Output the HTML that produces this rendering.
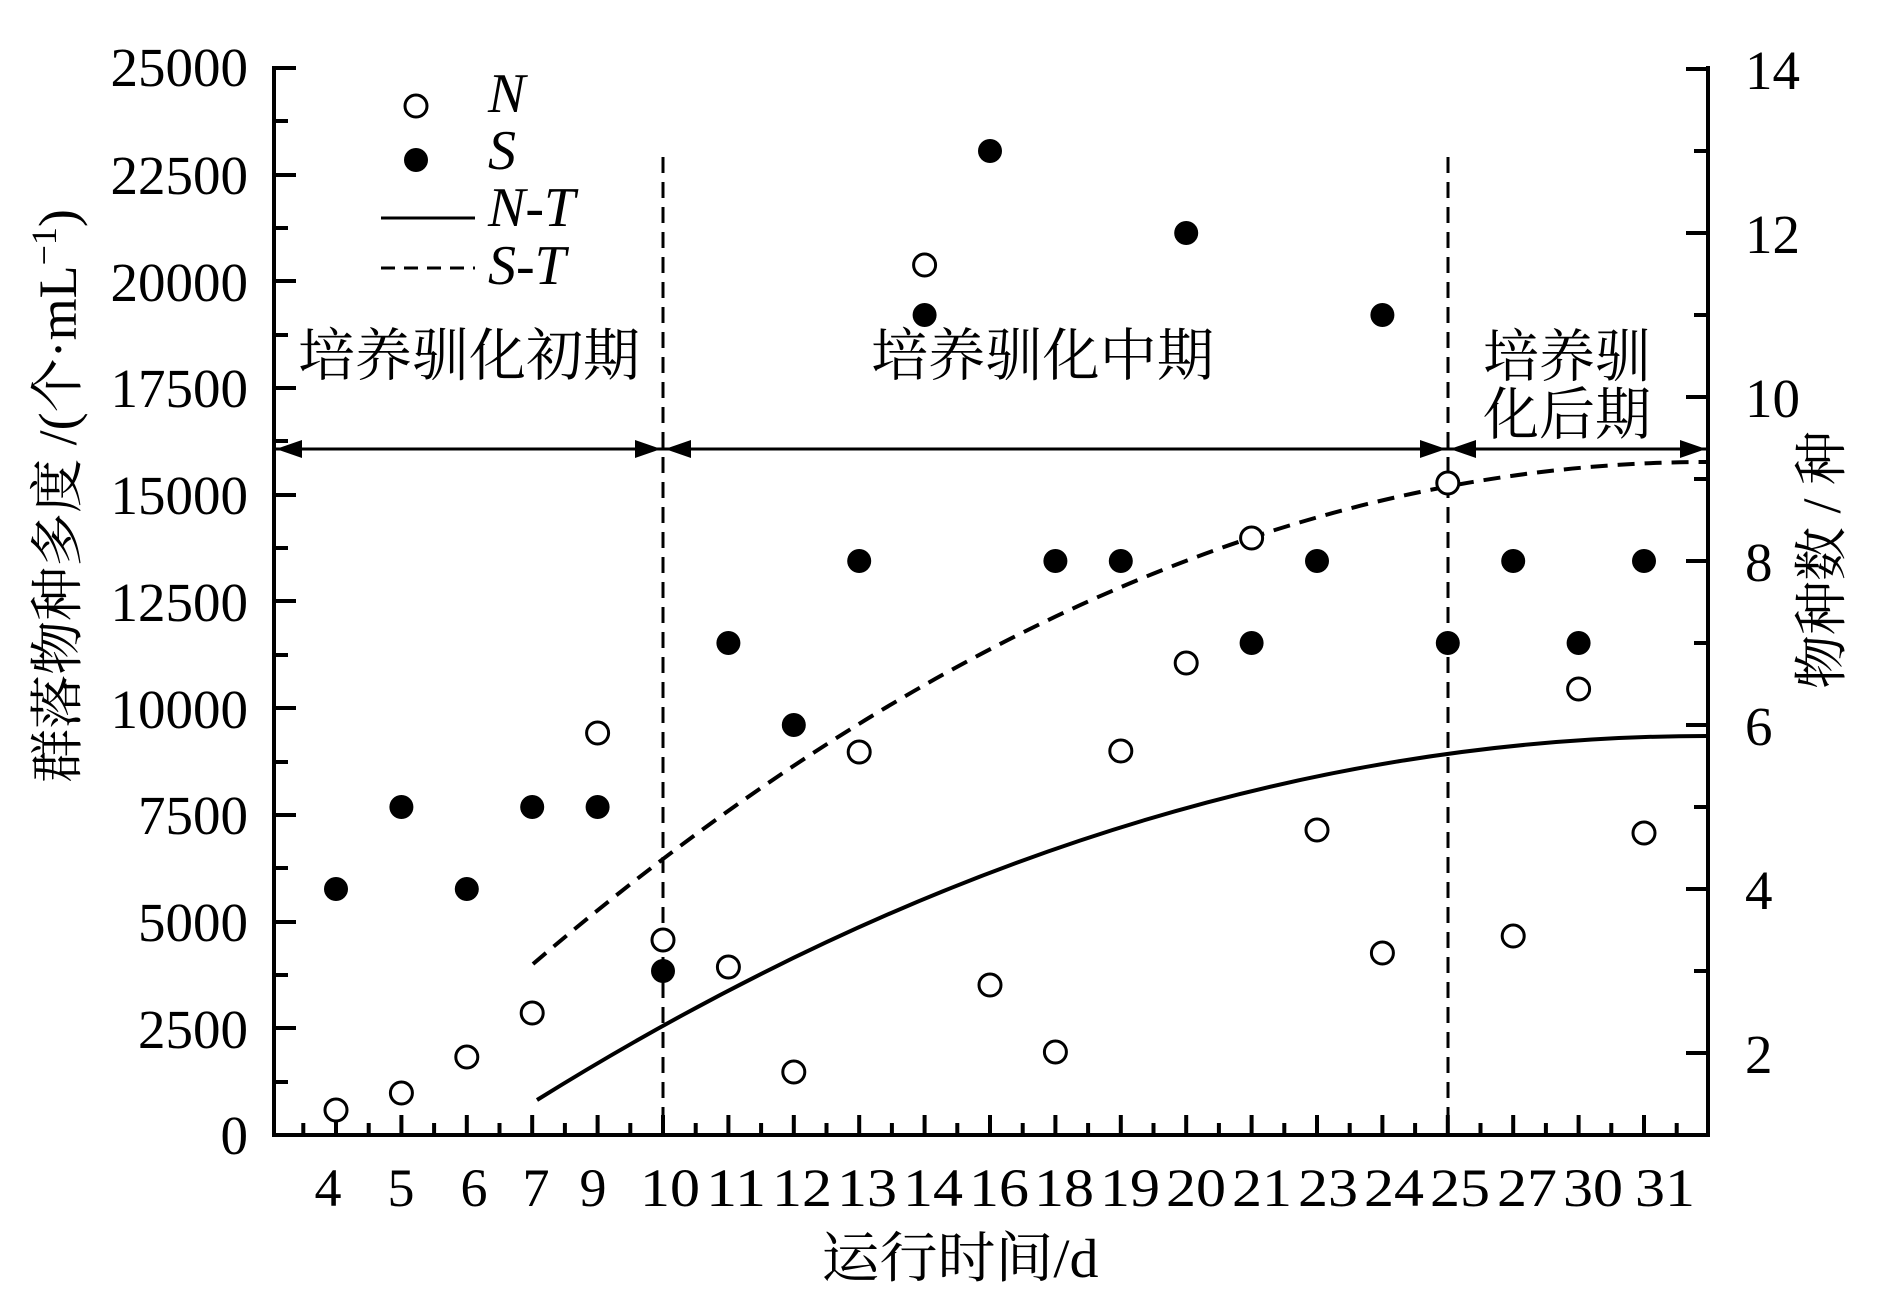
<!DOCTYPE html>
<html><head><meta charset="utf-8"><style>
html,body{margin:0;padding:0;background:#fff;}
svg{display:block;}
text{font-family:"Liberation Serif","Noto Serif CJK SC","Noto Sans CJK SC",serif;fill:#000;}
</style></head><body>
<svg width="1890" height="1299" viewBox="0 0 1890 1299" xmlns="http://www.w3.org/2000/svg">
<rect width="1890" height="1299" fill="#fff"/>
<g stroke="#000" stroke-width="4" fill="none">
<path d="M274 66 V1135 H1708 V66"/>
<path d="M274 68h22M274 175h22M274 281h22M274 388h22M274 495h22M274 601h22M274 708h22M274 815h22M274 922h22M274 1028h22"/>
<path d="M274 121h14M274 228h14M274 335h14M274 441h14M274 548h14M274 655h14M274 762h14M274 868h14M274 975h14M274 1082h14"/>
<path d="M1708 69h-22M1708 233h-22M1708 397h-22M1708 561h-22M1708 725h-22M1708 889h-22M1708 1053h-22"/>
<path d="M1708 151h-14M1708 315h-14M1708 479h-14M1708 643h-14M1708 807h-14M1708 971h-14"/>
<path d="M336 1135v-20M401.4 1135v-20M466.8 1135v-20M532.2 1135v-20M597.6 1135v-20M663 1135v-20M728.4 1135v-20M793.8 1135v-20M859.2 1135v-20M924.6 1135v-20M990 1135v-20M1055.4 1135v-20M1120.8 1135v-20M1186.2 1135v-20M1251.6 1135v-20M1317 1135v-20M1382.4 1135v-20M1447.8 1135v-20M1513.2 1135v-20M1578.6 1135v-20M1644 1135v-20"/>
<path d="M303.3 1135v-12M368.7 1135v-12M434.1 1135v-12M499.5 1135v-12M564.9 1135v-12M630.3 1135v-12M695.7 1135v-12M761.1 1135v-12M826.5 1135v-12M891.9 1135v-12M957.3 1135v-12M1022.7 1135v-12M1088.1 1135v-12M1153.5 1135v-12M1218.9 1135v-12M1284.3 1135v-12M1349.7 1135v-12M1415.1 1135v-12M1480.5 1135v-12M1545.9 1135v-12M1611.3 1135v-12M1676.7 1135v-12"/>
</g>
<g stroke="#000" stroke-width="3" stroke-dasharray="16,9">
<line x1="663" y1="157" x2="663" y2="1135"/>
<line x1="1448" y1="157" x2="1448" y2="1135"/>
</g>
<line x1="276" y1="449" x2="1706" y2="449" stroke="#000" stroke-width="3"/>
<g fill="#000">
<path d="M276 449 l26 -9 v18z"/>
<path d="M661 449 l-26 -9 v18z"/>
<path d="M665 449 l26 -9 v18z"/>
<path d="M1446 449 l-26 -9 v18z"/>
<path d="M1450 449 l26 -9 v18z"/>
<path d="M1706 449 l-26 -9 v18z"/>
</g>
<path d="M537 1100 Q 1122 736 1707 736" stroke="#000" stroke-width="4" fill="none"/>
<path d="M533 964 Q 1120 462 1707 462" stroke="#000" stroke-width="4" fill="none" stroke-dasharray="17,10"/>
<g fill="#fff" stroke="#000" stroke-width="3">
<circle cx="336" cy="1110" r="11"/><circle cx="401.4" cy="1093" r="11"/><circle cx="466.8" cy="1057" r="11"/>
<circle cx="532.2" cy="1013" r="11"/><circle cx="597.6" cy="733" r="11"/><circle cx="663" cy="940" r="11"/>
<circle cx="728.4" cy="967" r="11"/><circle cx="793.8" cy="1072" r="11"/><circle cx="859.2" cy="752" r="11"/>
<circle cx="924.6" cy="265" r="11"/><circle cx="990" cy="985" r="11"/><circle cx="1055.4" cy="1052" r="11"/>
<circle cx="1120.8" cy="751" r="11"/><circle cx="1186.2" cy="663" r="11"/><circle cx="1251.6" cy="538" r="11"/>
<circle cx="1317" cy="830" r="11"/><circle cx="1382.4" cy="953" r="11"/><circle cx="1447.8" cy="483" r="11"/>
<circle cx="1513.2" cy="936" r="11"/><circle cx="1578.6" cy="689" r="11"/><circle cx="1644" cy="833" r="11"/>
</g>
<g fill="#000">
<circle cx="336" cy="889" r="12"/><circle cx="401.4" cy="807" r="12"/><circle cx="466.8" cy="889" r="12"/>
<circle cx="532.2" cy="807" r="12"/><circle cx="597.6" cy="807" r="12"/><circle cx="663" cy="971" r="12"/>
<circle cx="728.4" cy="643" r="12"/><circle cx="793.8" cy="725" r="12"/><circle cx="859.2" cy="561" r="12"/>
<circle cx="924.6" cy="315" r="12"/><circle cx="990" cy="151" r="12"/><circle cx="1055.4" cy="561" r="12"/>
<circle cx="1120.8" cy="561" r="12"/><circle cx="1186.2" cy="233" r="12"/><circle cx="1251.6" cy="643" r="12"/>
<circle cx="1317" cy="561" r="12"/><circle cx="1382.4" cy="315" r="12"/><circle cx="1447.8" cy="643" r="12"/>
<circle cx="1513.2" cy="561" r="12"/><circle cx="1578.6" cy="643" r="12"/><circle cx="1644" cy="561" r="12"/>
</g>
<circle cx="416" cy="106" r="11" fill="#fff" stroke="#000" stroke-width="3"/>
<circle cx="416" cy="160" r="12" fill="#000"/>
<line x1="381" y1="218" x2="475" y2="218" stroke="#000" stroke-width="3"/>
<line x1="381" y1="268" x2="475" y2="268" stroke="#000" stroke-width="3" stroke-dasharray="14,9"/>
<g font-size="56" font-style="italic">
<text x="488" y="112">N</text>
<text x="488" y="169">S</text>
<text x="488" y="226">N-T</text>
<text x="488" y="284">S-T</text>
</g>
<g font-size="55" text-anchor="end">
<text x="248" y="86">25000</text><text x="248" y="194">22500</text><text x="248" y="301">20000</text>
<text x="248" y="407">17500</text><text x="248" y="514">15000</text><text x="248" y="621">12500</text>
<text x="248" y="728">10000</text><text x="248" y="834">7500</text><text x="248" y="941">5000</text>
<text x="248" y="1048">2500</text><text x="248" y="1154">0</text>
</g>
<g font-size="55">
<text x="1745" y="89">14</text><text x="1745" y="253">12</text><text x="1745" y="417">10</text>
<text x="1745" y="581">8</text><text x="1745" y="745">6</text><text x="1745" y="909">4</text><text x="1745" y="1073">2</text>
</g>
<g font-size="54" text-anchor="middle">
<text x="328" y="1206">4</text><text x="401" y="1206">5</text><text x="474" y="1206">6</text>
<text x="536" y="1206">7</text><text x="593" y="1206">9</text>
<text x="670" y="1206" textLength="60" lengthAdjust="spacingAndGlyphs">10</text>
<text x="736" y="1206" textLength="60" lengthAdjust="spacingAndGlyphs">11</text>
<text x="802" y="1206" textLength="60" lengthAdjust="spacingAndGlyphs">12</text>
<text x="867" y="1206" textLength="60" lengthAdjust="spacingAndGlyphs">13</text>
<text x="933" y="1206" textLength="60" lengthAdjust="spacingAndGlyphs">14</text>
<text x="999" y="1206" textLength="60" lengthAdjust="spacingAndGlyphs">16</text>
<text x="1064" y="1206" textLength="60" lengthAdjust="spacingAndGlyphs">18</text>
<text x="1130" y="1206" textLength="60" lengthAdjust="spacingAndGlyphs">19</text>
<text x="1196" y="1206" textLength="60" lengthAdjust="spacingAndGlyphs">20</text>
<text x="1262" y="1206" textLength="60" lengthAdjust="spacingAndGlyphs">21</text>
<text x="1328" y="1206" textLength="60" lengthAdjust="spacingAndGlyphs">23</text>
<text x="1394" y="1206" textLength="60" lengthAdjust="spacingAndGlyphs">24</text>
<text x="1460" y="1206" textLength="60" lengthAdjust="spacingAndGlyphs">25</text>
<text x="1527" y="1206" textLength="60" lengthAdjust="spacingAndGlyphs">27</text>
<text x="1593" y="1206" textLength="60" lengthAdjust="spacingAndGlyphs">30</text>
<text x="1665" y="1206" textLength="60" lengthAdjust="spacingAndGlyphs">31</text>
</g>
<g font-size="57" font-family="'Noto Serif CJK SC','Noto Sans CJK SC',serif">
<text x="298" y="375" textLength="342" lengthAdjust="spacingAndGlyphs">培养驯化初期</text>
<text x="871" y="375" textLength="343" lengthAdjust="spacingAndGlyphs">培养驯化中期</text>
<text x="1483" y="376" textLength="168" lengthAdjust="spacingAndGlyphs">培养驯</text>
<text x="1483" y="434" textLength="168" lengthAdjust="spacingAndGlyphs">化后期</text>
</g>
<text x="960" y="1277" font-size="55" text-anchor="middle" textLength="277" lengthAdjust="spacingAndGlyphs">运行时间/d</text>
<text transform="translate(76,496) rotate(-90)" font-size="54" text-anchor="middle">群落物种多度 /(个·mL<tspan font-size="36" dy="-20">−1</tspan><tspan dy="20">)</tspan></text>
<text transform="translate(1840,560) rotate(-90)" font-size="54" text-anchor="middle">物种数 / 种</text>
</svg>
</body></html>
